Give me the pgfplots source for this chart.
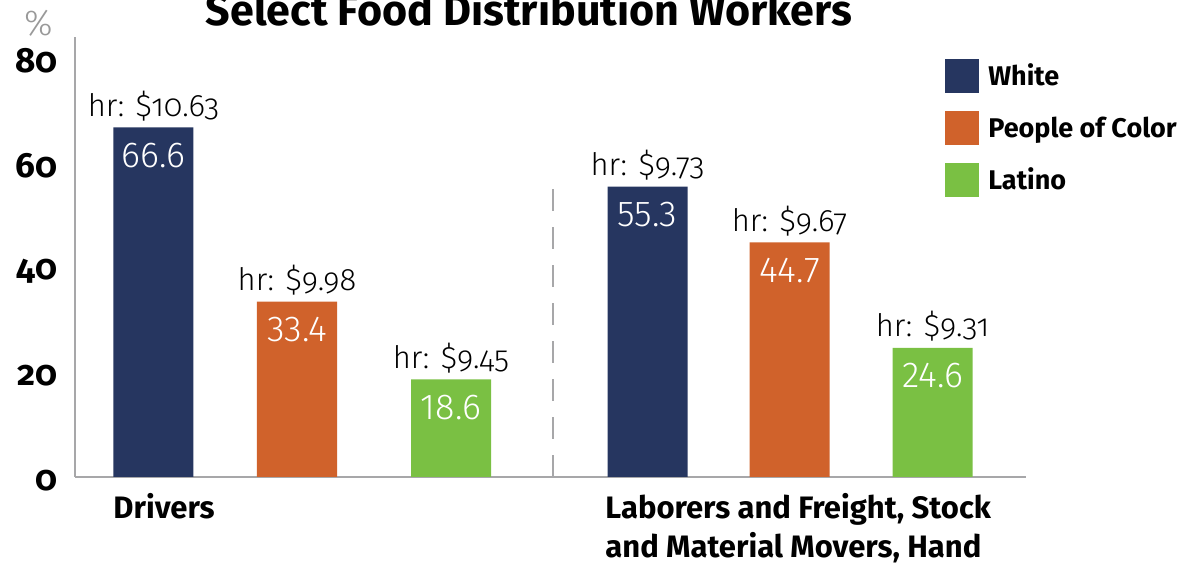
\documentclass[border=0pt]{standalone}
\usepackage{pgfplots}
\pgfplotsset{compat=1.18}
\usepackage{pgfplotstable}
\usepackage{fontspec}
\setmainfont{Fira Sans}
\newfontfamily\oldnum{Fira Sans}[Numbers=OldStyle]
\newfontfamily\lightold{Fira Sans Light}[Numbers=OldStyle]
\newfontfamily\lightlin{Fira Sans Light}
\definecolor{cWhite}{HTML}{263660}
\definecolor{cPOC}{HTML}{D0622B}
\definecolor{cLat}{HTML}{7AC043}
\definecolor{cAxis}{HTML}{A7A7A9}

\pgfplotstableread{
x y w
153.5 66.6 10.63
647.5 55.3 9.73
}\tabWhite
\pgfplotstableread{
x y w
297 33.4 9.98
789.5 44.7 9.67
}\tabPOC
\pgfplotstableread{
x y w
451 18.6 9.45
932.5 24.6 9.31
}\tabLat

\begin{document}
\begin{tikzpicture}
\useasboundingbox (0,0) rectangle (597.5pt,282.5pt);
\clip (0,0) rectangle (597.5pt,282.5pt);
\begin{axis}[
  at={(37.5pt,44pt)}, anchor=south west,
  scale only axis, width=475.5pt, height=220pt,
  xmin=75, xmax=1026, ymin=0, ymax=83.8,
  axis x line=bottom, axis y line=left,
  axis line style={-, cAxis, line width=1.3pt},
  major tick length=0pt,
  ytick={0,20,40,60,80},
  yticklabel style={font=\oldnum\bfseries\fontsize{17.5}{17.5}\selectfont, inner sep=0pt, xshift=-8.5pt, yshift=-2pt},
  /pgf/number format/assume math mode=true,
  xtick={113,605},
  xticklabels={Drivers, {Laborers and Freight, Stock\\and Material Movers, Hand}},
  xticklabel style={anchor=north west, align=left, inner sep=0pt, yshift=-8pt, font=\bfseries\fontsize{15.5}{19.5}\selectfont},
  ybar, clip=false,
  legend image code/.code={\fill[#1] (0pt,-8.5pt) rectangle (17pt,8.5pt);},
  legend style={draw=none, fill=none, inner sep=0pt, at={(0.9148,0.95)}, anchor=north west,
     font=\bfseries\fontsize{13.5}{13.5}\selectfont, row sep=9pt, column sep=3pt,
     nodes={inner xsep=1.5pt, inner ysep=0pt}},
  legend cell align=left,
  nodes near coords style={font=\lightlin\fontsize{18}{18}\selectfont, text=white},
]
\addplot[fill=cWhite, draw=none, bar width=80, bar shift=0pt,
  nodes near coords, nodes near coords style={anchor=north, inner sep=0pt, yshift=-7.5pt},
  /pgf/number format/.cd, fixed, precision=1] table[x=x,y=y] {\tabWhite};
\addlegendentry{White}
\addplot[fill=cPOC, draw=none, bar width=80, bar shift=0pt,
  nodes near coords, nodes near coords style={anchor=north, inner sep=0pt, yshift=-7.5pt},
  /pgf/number format/.cd, fixed, precision=1] table[x=x,y=y] {\tabPOC};
\addlegendentry{People of Color}
\addplot[fill=cLat, draw=none, bar width=80, bar shift=0pt,
  nodes near coords, nodes near coords style={anchor=north, inner sep=0pt, yshift=-7.5pt},
  /pgf/number format/.cd, fixed, precision=1] table[x=x,y=y] {\tabLat};
\addlegendentry{Latino}

\addplot[forget plot, draw=none, fill=none, bar width=80, bar shift=0pt, point meta=explicit symbolic,
  nodes near coords={hr: \$\pgfplotspointmeta},
  nodes near coords style={anchor=base, yshift=5.5pt, text=black, font=\lightold\fontsize{15.5}{15.5}\selectfont}]
  table[x=x,y=y,meta=w] {\tabWhite};
\addplot[forget plot, draw=none, fill=none, bar width=80, bar shift=0pt, point meta=explicit symbolic,
  nodes near coords={hr: \$\pgfplotspointmeta},
  nodes near coords style={anchor=base, yshift=5.5pt, text=black, font=\lightold\fontsize{15.5}{15.5}\selectfont}]
  table[x=x,y=y,meta=w] {\tabPOC};
\addplot[forget plot, draw=none, fill=none, bar width=80, bar shift=0pt, point meta=explicit symbolic,
  nodes near coords={hr: \$\pgfplotspointmeta},
  nodes near coords style={anchor=base, yshift=5.5pt, text=black, font=\lightold\fontsize{15.5}{15.5}\selectfont}]
  table[x=x,y=y,meta=w] {\tabLat};

\addplot[forget plot, sharp plot, cAxis, line width=0.8pt, dash pattern=on 11pt off 8pt] coordinates {(553,0) (553,57.3)};
\end{axis}
\node[anchor=base, font=\bfseries\fontsize{21.5}{21.5}\selectfont] at (264.5pt,269.5pt) {Select Food Distribution Workers};
\node[font=\lightlin\fontsize{18}{18}\selectfont, text=gray!80] at (19.5pt,271pt) {\%};
\end{tikzpicture}
\end{document}
